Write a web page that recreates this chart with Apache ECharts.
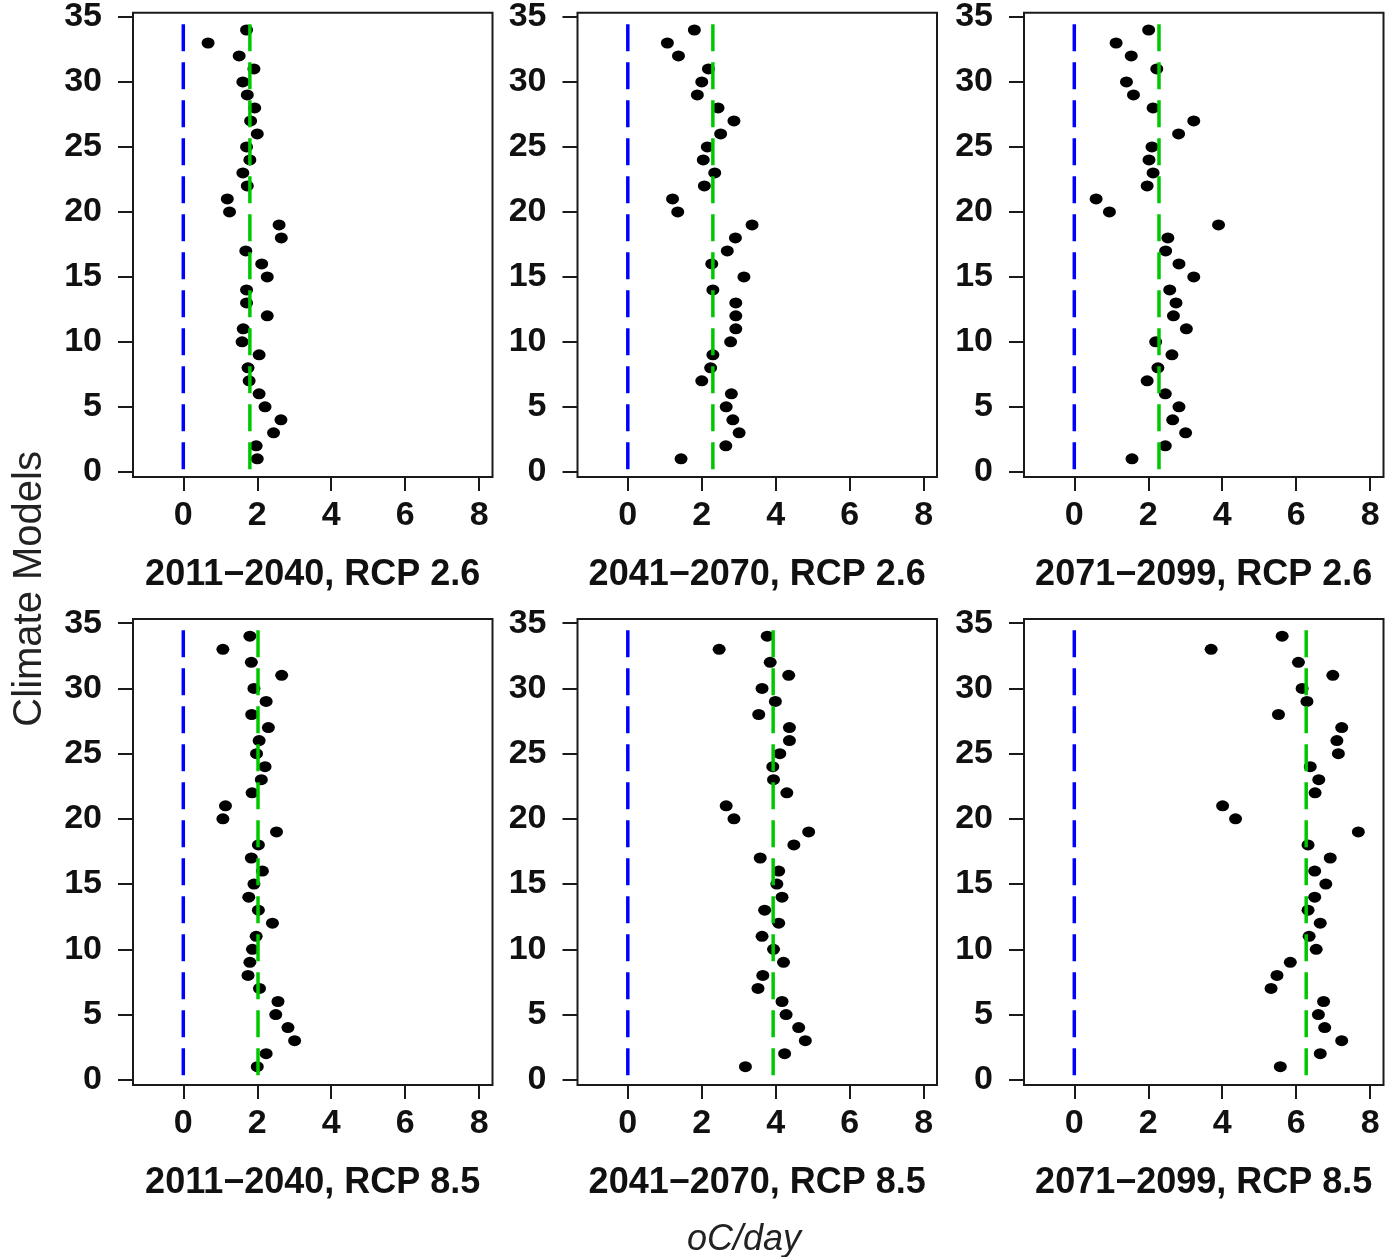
<!DOCTYPE html>
<html>
<head>
<meta charset="utf-8">
<script src="https://cdn.jsdelivr.net/npm/echarts@6/dist/echarts.min.js"></script>
<style>
html,body{margin:0;padding:0;background:#fff;}
#chart{width:1389px;height:1257px;}
</style>
</head>
<body>
<div id="chart"></div>
<script>
// Climate model indices (y values)
const models = [1,2,3,4,5,6,7,8,9,10,11,12,13,14,15,16,17,18,19,20,21,22,23,24,25,26,27,28,29,30,31,32,33,34];

// Panel titles
const panelTitles = [
  '2011\u22122040, RCP 2.6', '2041\u22122070, RCP 2.6', '2071\u22122099, RCP 2.6',
  '2011\u22122040, RCP 8.5', '2041\u22122070, RCP 8.5', '2071\u22122099, RCP 8.5'
];

// Values (oC/day) per model, models 1..34
const rcp26_2011 = [2.00,1.97,2.44,2.64,2.21,2.05,1.78,1.75,2.05,1.59,1.62,2.27,1.71,1.71,2.27,2.12,1.69,2.65,2.59,1.25,1.19,1.73,1.61,1.80,1.71,2.00,1.82,1.93,1.73,1.61,1.91,1.51,0.67,1.71];
const rcp26_2041 = [1.44,2.65,3.01,2.84,2.66,2.80,2.00,2.24,2.30,2.78,2.92,2.92,2.92,2.30,3.14,2.27,2.69,2.91,3.36,1.35,1.21,2.07,2.35,2.04,2.15,2.51,2.87,2.44,1.88,2.00,2.18,1.37,1.07,1.80];
const rcp26_2071 = [1.56,2.46,3.01,2.66,2.83,2.46,1.97,2.26,2.64,2.20,3.03,2.68,2.75,2.58,3.23,2.83,2.47,2.53,3.90,0.95,0.59,1.97,2.13,2.02,2.10,2.82,3.23,2.13,1.60,1.41,2.23,1.54,1.13,2.01];
const rcp85_2011 = [2.00,2.24,3.01,2.83,2.50,2.56,2.06,1.75,1.80,1.87,1.97,2.41,2.03,1.77,1.91,2.14,1.84,2.03,2.52,1.07,1.14,1.86,2.11,2.21,1.98,2.05,2.30,1.85,2.24,1.91,2.66,1.84,1.07,1.80];
const rcp85_2041 = [3.18,4.24,4.80,4.62,4.28,4.17,3.52,3.65,4.21,3.94,3.63,4.08,3.70,4.17,4.03,4.08,3.58,4.49,4.89,2.87,2.66,4.30,3.94,3.92,4.11,4.37,4.37,3.54,3.99,3.63,4.35,3.85,2.47,3.77];
const rcp85_2071 = [5.57,6.65,7.23,6.77,6.60,6.74,5.32,5.48,5.84,6.54,6.35,6.65,6.32,6.50,6.80,6.50,6.92,6.32,7.68,4.36,4.01,6.51,6.61,6.38,7.14,7.10,7.23,5.52,6.29,6.16,6.99,6.06,3.70,5.62];

// Reference lines
const zeroLine = [0,0,0,0,0,0];
const meanLine = [1.80,2.30,2.29,2.02,3.93,6.27];

// Tick labels
const xTicks = [0,2,4,6,8];
const yTicks = [0,5,10,15,20,25,30,35];

const panelValues = [rcp26_2011, rcp26_2041, rcp26_2071, rcp85_2011, rcp85_2041, rcp85_2071];

const FONT = '"Liberation Sans", Arial, sans-serif';
const lefts = [133, 577.5, 1024];
const tops = [11, 619];
const W = 359.5, H = 466;

const grid = [], xAxis = [], yAxis = [], series = [];
for (let i = 0; i < 6; i++) {
  const col = i % 3, row = Math.floor(i / 3);
  grid.push({left: lefts[col], top: tops[row], width: W, height: H,
    show: true, borderColor: '#1a1a1a', borderWidth: 2, backgroundColor: 'transparent'});
  xAxis.push({type: 'value', gridIndex: i, min: -1.36, max: 8.36, position: 'bottom',
    name: panelTitles[i], nameLocation: 'middle', nameGap: 80,
    nameTextStyle: {fontFamily: FONT, fontWeight: 'bold', fontSize: 36, color: '#111'},
    axisLine: {show: false, onZero: false}, splitLine: {show: false},
    axisTick: {show: true, length: 14, lineStyle: {color: '#1a1a1a', width: 2}, customValues: xTicks},
    axisLabel: {show: true, margin: 22, fontFamily: FONT, fontWeight: 'bold', fontSize: 34, color: '#111', customValues: xTicks}
  });
  yAxis.push({type: 'value', gridIndex: i, min: -0.4, max: 35.32, position: 'left',
    axisLine: {show: false, onZero: false}, splitLine: {show: false},
    axisTick: {show: true, length: 15, lineStyle: {color: '#1a1a1a', width: 2}, customValues: yTicks},
    axisLabel: {show: true, margin: 31, fontFamily: FONT, fontWeight: 'bold', fontSize: 34, color: '#111', customValues: yTicks}
  });
  series.push({type: 'scatter', xAxisIndex: i, yAxisIndex: i,
    data: panelValues[i].map((v, k) => [v, models[k]]),
    symbol: 'circle', symbolSize: [13, 11], itemStyle: {color: '#000', opacity: 1}, z: 2, silent: true});
  series.push({type: 'line', xAxisIndex: i, yAxisIndex: i,
    data: [[zeroLine[i], 34.45], [zeroLine[i], -0.4]], symbol: 'none',
    lineStyle: {color: '#0000ff', width: 3.5, type: [27, 11]}, z: 3, silent: true, animation: false});
  series.push({type: 'line', xAxisIndex: i, yAxisIndex: i,
    data: [[meanLine[i], 34.45], [meanLine[i], -0.4]], symbol: 'none',
    lineStyle: {color: '#00c800', width: 3.5, type: [27, 11]}, z: 3, silent: true, animation: false});
}

const chart = echarts.init(document.getElementById('chart'), null, {renderer: 'canvas'});
chart.setOption({
  animation: false,
  backgroundColor: '#fff',
  grid, xAxis, yAxis, series,
  graphic: [
    {type: 'text', left: 10, top: 451, rotation: Math.PI / 2,
      style: {text: 'Climate Models', fontFamily: FONT, fontSize: 40, fill: '#222'}},
    {type: 'text', x: 744, y: 1240,
      style: {text: 'oC/day', fontFamily: FONT, fontSize: 36, fontStyle: 'italic', fill: '#222', align: 'center', verticalAlign: 'middle'}}
  ]
});
</script>
</body>
</html>
